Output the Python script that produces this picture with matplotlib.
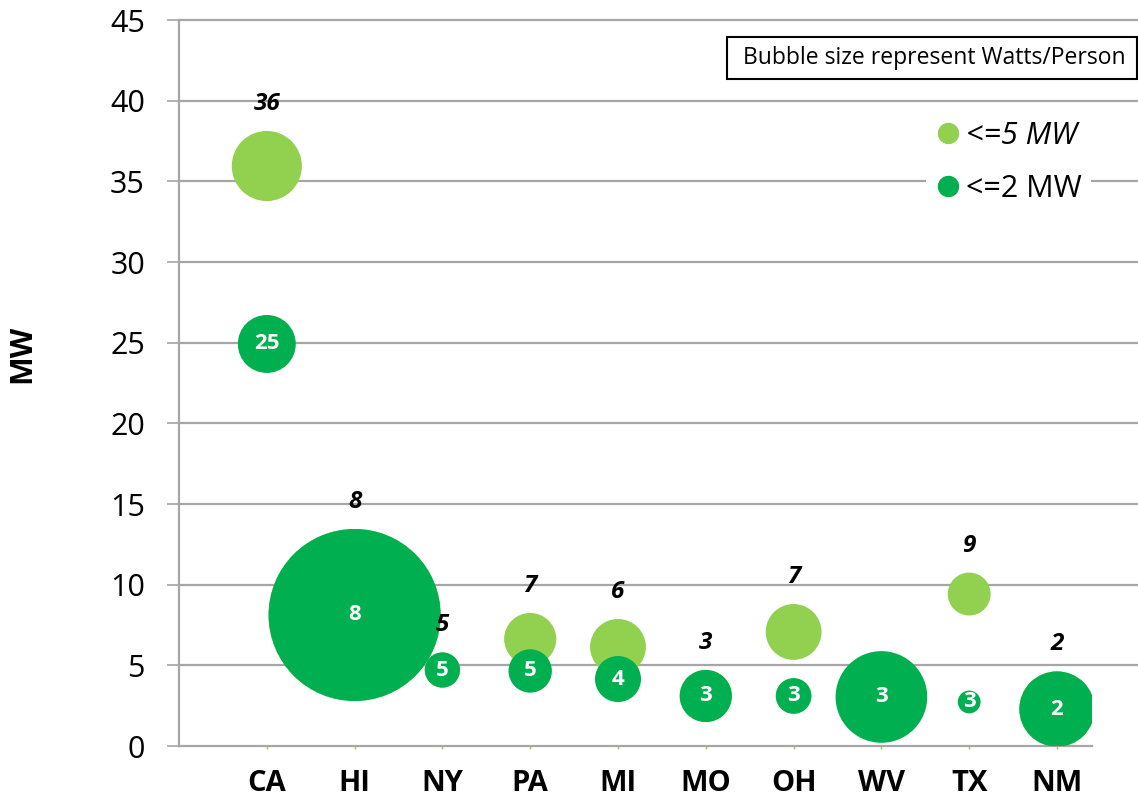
import matplotlib
matplotlib.use("Agg")
import matplotlib.pyplot as plt
from matplotlib.lines import Line2D
from matplotlib.patches import Rectangle
import numpy as np

plt.rcParams['font.family'] = ['Open Sans', 'DejaVu Sans']

# states along the x axis
states = ['CA', 'HI', 'NY', 'PA', 'MI', 'MO', 'OH', 'WV', 'TX', 'NM']

# installed MW per state, two project classes
mw_le5 = [35.95, 8.12, 4.71, 6.63, 6.14, 3.10, 7.07, np.nan, 9.42, 2.29]
mw_le2 = [24.92, 8.12, 4.71, 4.65, 4.15, 3.10, 3.10, 3.04, 2.73, 2.29]

# bubble size values (watts per person, relative)
wpp_le5 = [12.3, 74.0, 3.1, 6.8, 7.8, 6.8, 7.8, np.nan, 4.6, 14.2]
wpp_le2 = [8.4, 74.0, 3.1, 4.7, 5.3, 6.8, 3.2, 21.0, 1.3, 14.2]

light = '#92D050'
dark = '#00B050'
grid_c = '#a6a6a6'

fig = plt.figure(figsize=(11.38, 8), dpi=100)
ax = fig.add_axes([179 / 1138, 1 - 746 / 800, (1092 - 179) / 1138, (746 - 20) / 800])

x = np.arange(1, len(states) + 1)
le5 = np.array(mw_le5)
le2 = np.array(mw_le2)
s5 = np.array(wpp_le5)
s2 = np.array(wpp_le2)

# bubble area proportional to watts/person (radius px = 10*sqrt(v))
k = 207.36
ax.scatter(x, le5, s=k * s5, color=light, edgecolors='none', zorder=3)
ax.scatter(x, le2, s=k * s2, color=dark, edgecolors='none', zorder=4)

for xi, v, w in zip(x, le5, s5):
    if np.isnan(v):
        continue
    r = 10 * np.sqrt(w)
    ax.annotate(f'{v:.0f}', (xi, v), xytext=(0, (r + 27) * 0.72),
                textcoords='offset points', ha='center', va='center',
                fontsize=17.5, fontweight='bold', style='italic', zorder=6)

for xi, v in zip(x, le2):
    ax.text(xi, v, f'{v:.0f}', ha='center', va='center', color='white',
            fontsize=16, fontweight='bold', zorder=6)

ax.set_xlim(0, (1092 - 179) / 87.8)
ax.set_ylim(0, 45)
ax.set_yticks(np.arange(0, 46, 5))
ax.set_xticks(x)
ax.set_xticklabels(states, fontsize=21, fontweight='bold')
ax.tick_params(axis='y', labelsize=22, length=8.5, width=1.2, color=grid_c, pad=16)
ax.tick_params(axis='x', length=2.5, width=1, color=light, pad=14)

# gridlines run a bit past the plot edge
yt = ax.get_yaxis_transform()
for gy in range(5, 46, 5):
    ax.plot([0, 1.0504], [gy, gy], transform=yt, color=grid_c, lw=1.6,
            clip_on=False, zorder=1)

for side in ['top', 'right']:
    ax.spines[side].set_visible(False)
ax.spines['left'].set_color(grid_c)
ax.spines['left'].set_linewidth(1.6)
ax.spines['bottom'].set_color(grid_c)
ax.spines['bottom'].set_linewidth(1.6)

fig.text(22 / 1138, 1 - 354 / 800, 'MW', rotation=90, fontsize=22,
         fontweight='bold', ha='center', va='center')

handles = [Line2D([], [], marker='o', ls='', color=light, markersize=14.4),
           Line2D([], [], marker='o', ls='', color=dark, markersize=14.4)]
leg = ax.legend(handles, ['<=5 MW', '<=2 MW'], loc='center left',
                bbox_to_anchor=(911 / 1138, 1 - 162.5 / 800),
                bbox_transform=fig.transFigure, fontsize=22,
                handlelength=0.8, handletextpad=0.2, labelspacing=0.76,
                borderpad=0.3, frameon=True, fancybox=False,
                facecolor='white', edgecolor='none', framealpha=1)
leg.get_texts()[0].set_style('italic')
leg.set_zorder(7)

fig.add_artist(Rectangle((727 / 1138, 1 - 79 / 800), 410 / 1138, 42 / 800,
                         transform=fig.transFigure, facecolor='white',
                         edgecolor='black', lw=1.5, zorder=8))
fig.text(934 / 1138, 1 - 58 / 800, 'Bubble size represent Watts/Person',
         ha='center', va='center', fontsize=16.5, zorder=9)

fig.savefig('out.png', dpi=100)
